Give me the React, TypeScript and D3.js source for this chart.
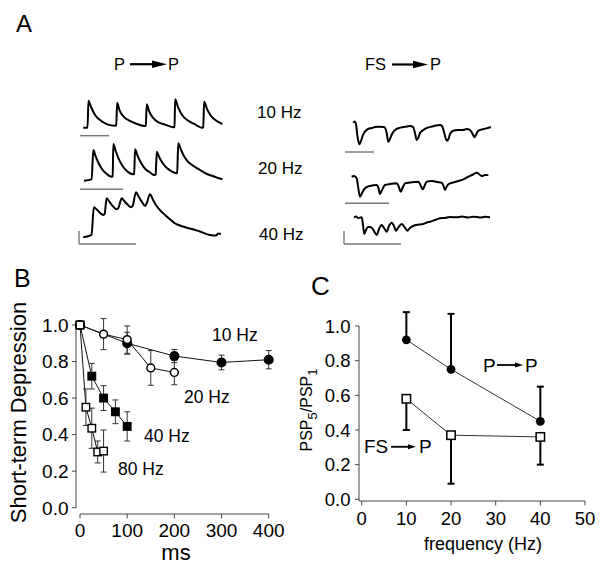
import React from 'react';
import * as d3 from 'd3';

// ---------- Panel A: traces, [time (ms), potential (mV)] ----------
const ppTrace10 = [[11,0],[26,0],[29,2.08],[38,1.59],[52,0.98],[69,0.59],[92,0.28],[121,0.15],[125,0.17],[128,1.92],[136,1.36],[152,0.82],[172,0.52],[197,0.28],[222,0.13],[227,0.15],[230,1.8],[238,1.28],[252,0.75],[272,0.4],[297,0.21],[322,0.03],[326,0.05],[328,2.18],[338,1.59],[352,0.98],[372,0.55],[397,0.25],[420,0],[425,0.03],[428,2.0],[438,1.44],[452,0.9],[469,0.55],[491,0.28]];
const ppTrace20 = [[9,-0.05],[27,0.05],[31,2.31],[36,1.85],[43,1.31],[51,0.85],[61,0.5],[74,0.25],[76,0.27],[77.5,2.77],[83,2.23],[90,1.62],[99,1.08],[109,0.69],[123,0.44],[126,0.46],[128,2.36],[134,1.85],[142,1.31],[152,0.85],[163,0.58],[173,0.38],[176,0.42],[178.5,2.18],[184,1.77],[192,1.31],[202,0.92],[212,0.69],[223,0.52],[226,0.54],[228.5,2.82],[235,2.31],[243,1.77],[252,1.38],[264,1.08],[279,0.77],[295,0.46],[309,0.31],[321,0.15],[331,0.05]];
const ppTrace40 = [[7.5,-0.1],[22,0.08],[26,2.21],[32,2.0],[37,1.77],[43,1.62],[45,1.69],[48.5,2.9],[53.5,2.62],[60,2.27],[66,2.05],[69,2.15],[75,2.9],[80,2.65],[86,2.38],[91,2.21],[94,2.31],[100,3.36],[105,3.0],[110.5,2.62],[116,2.31],[119,2.54],[124.5,3.21],[130,2.77],[135,2.38],[142,2.0],[151,1.62],[160,1.27],[168,0.98],[177,0.81],[188,0.65],[200,0.52],[212,0.35],[230,0.08],[240,0.04],[245,0.19],[249,0.15]];
const fsTrace10 = [[28.6,0.25],[32.8,0.35],[37.9,0.15],[42.4,-0.69],[49.3,-1.41],[55.2,-1.15],[62.1,-0.69],[69,-0.44],[79.3,-0.23],[93.1,-0.15],[103.4,-0.08],[114.8,-0.05],[134.5,-0.08],[143.8,-0.54],[149.3,-1.21],[155.2,-1.0],[162.1,-0.62],[172.4,-0.31],[186.2,-0.15],[200,-0.08],[213.8,-0.04],[224.1,0],[234.5,-0.08],[241.4,-0.54],[247.2,-1.08],[253.4,-0.88],[258.6,-0.54],[270,-0.31],[282.8,-0.15],[300,-0.04],[313.8,0.04],[327.6,0.08],[334.5,0],[341.4,-0.46],[350.7,-1.13],[356.9,-1.0],[362.1,-0.62],[373.4,-0.36],[389.7,-0.31],[406.9,-0.31],[420.7,-0.23],[431,-0.31],[440.3,-0.62],[445.9,-0.87],[451.7,-0.69],[458.6,-0.38],[465.5,-0.31],[479.3,-0.23],[493.1,-0.15],[503.4,-0.1]];
const fsTrace20 = [[15.2,0.33],[20.5,0.38],[26.6,0.21],[29.5,-0.38],[34.1,-1.21],[38.6,-0.92],[45.5,-0.56],[56.8,-0.38],[72,-0.31],[76.1,-0.54],[79.5,-1.0],[84.1,-0.69],[90.9,-0.31],[102.3,-0.23],[117.5,-0.18],[121.6,-0.38],[126.6,-0.82],[130.7,-0.54],[136.4,-0.18],[147.7,-0.12],[166.6,-0.05],[171.6,-0.31],[176.6,-0.64],[180.7,-0.38],[185.7,-0.05],[197.7,0],[209.1,-0.08],[219.8,-0.13],[223.9,-0.38],[227.3,-0.69],[231.8,-0.38],[238.6,-0.18],[250,-0.08],[261.4,0.04],[268.9,0.13],[279.5,0.31],[288.6,0.46],[299.3,0.64],[304.5,0.54],[310.7,0.38],[318.2,0.46],[325.7,0.46]];
const fsTrace40 = [[17.5,0],[21.1,0.06],[24.6,-0.05],[31.1,0],[33.3,-0.59],[35.6,-1.28],[38.6,-0.98],[42.6,-0.72],[49.1,-0.82],[53.5,-1.13],[57.4,-1.36],[61.4,-0.9],[66.1,-0.59],[70.2,-0.82],[74.9,-1.11],[78.9,-0.67],[83.7,-0.42],[87.7,-0.67],[91.2,-1.03],[95.6,-0.75],[101.2,-0.52],[106.1,-0.75],[111.1,-1.03],[115.8,-0.82],[121.1,-0.67],[127.5,-0.59],[133.3,-0.55],[139.1,-0.52],[145.6,-0.4],[150.9,-0.34],[159.6,-0.21],[168.4,-0.08],[177.2,-0.05],[186,0.02],[197.7,0],[207,0.06],[217.5,-0.02],[226.8,0.05],[238.6,-0.02],[247.4,0.04],[256.1,0]];
const traceRowLabels = ['10 Hz', '20 Hz', '40 Hz'];
const scaleBarMs = 100;
const scaleBarMv = 1;

// ---------- Panel B: short-term depression vs time ----------
const msTicks = [0, 100, 200, 300, 400];
const depTicks = [0, 0.2, 0.4, 0.6, 0.8, 1.0];
const t10 = [0, 100, 200, 300, 400];
const v10 = [1.0, 0.90, 0.83, 0.795, 0.81];
const e10 = [0, 0.06, 0.036, 0.04, 0.05];
const t20 = [0, 50, 100, 150, 200];
const v20 = [1.0, 0.95, 0.92, 0.765, 0.74];
const e20 = [0, 0.085, 0.075, 0.095, 0.067];
const t40 = [0, 25, 50, 75, 100];
const v40 = [1.0, 0.72, 0.60, 0.525, 0.445];
const e40 = [0, 0.07, 0.068, 0.065, 0.08];
const t80 = [0, 12.5, 25, 37.5, 50];
const v80 = [1.0, 0.55, 0.435, 0.305, 0.31];
const e80 = [0, 0.1, 0.11, 0.06, 0.115];
const seriesBLabels = ['10 Hz', '20 Hz', '40 Hz', '80 Hz'];

// ---------- Panel C: PSP5/PSP1 vs frequency ----------
const freqTicks = [0, 10, 20, 30, 40, 50];
const ratioTicks = [0, 0.2, 0.4, 0.6, 0.8, 1.0];
const freqs = [10, 20, 40];
const ppRatio = [0.92, 0.75, 0.45];
const ppErrUp = [0.16, 0.32, 0.20];
const fsRatio = [0.58, 0.37, 0.36];
const fsErrDown = [0.18, 0.28, 0.16];

const FONT = '"Liberation Sans", Arial, Helvetica, sans-serif';

function Arrow({ x1, x2, y, head, h, sw }) {
  return (
    <g>
      <line x1={x1} x2={x2 - head + 1} y1={y} y2={y} stroke="#000" strokeWidth={sw} />
      <path d={`M${x2 - head},${y - h / 2}L${x2},${y}L${x2 - head},${y + h / 2}Z`} fill="#000" />
    </g>
  );
}

function Trace({ data, x0, k, base, pxPerMv }) {
  const x = d3.scaleLinear().domain([0, scaleBarMs]).range([x0, x0 + scaleBarMs * k]);
  const y = d3.scaleLinear().domain([0, scaleBarMv]).range([base, base - pxPerMv]);
  const line = d3.line().x((d) => x(d[0])).y((d) => y(d[1])).curve(d3.curveMonotoneX);
  return <path d={line(data)} fill="none" stroke="#000" strokeWidth={2} strokeLinejoin="round" />;
}

function ScaleBar({ x0, k, y, vert, pxPerMv }) {
  const len = scaleBarMs * k;
  return (
    <g stroke="#777" strokeWidth={1.4} fill="none">
      <line x1={x0} x2={x0 + len} y1={y} y2={y} />
      {vert && <line x1={x0} x2={x0} y1={y} y2={y - scaleBarMv * pxPerMv} />}
    </g>
  );
}

export default function App() {
  const pxPerMv = 13;
  const ppRows = [
    { data: ppTrace10, x0: 80, k: 0.29, base: 127.7, bar: 135.7 },
    { data: ppTrace20, x0: 80, k: 0.43, base: 180, bar: 189.3 },
    { data: ppTrace40, x0: 79, k: 0.57, base: 236, bar: 244 },
  ];
  const fsRows = [
    { data: fsTrace10, x0: 345, k: 0.29, base: 126, bar: 152 },
    { data: fsTrace20, x0: 345, k: 0.44, base: 181, bar: 203.3 },
    { data: fsTrace40, x0: 344, k: 0.57, base: 217.3, bar: 244 },
  ];
  const rowLabelY = [118.3, 174.3, 240];

  // Panel B scales
  const xB = d3.scaleLinear().domain([0, 400]).range([80, 268.7]);
  const yB = d3.scaleLinear().domain([0, 1]).range([507.7, 325]);
  const seriesB = [
    { t: t10, v: v10, e: e10, shape: 'circle', fill: '#000' },
    { t: t20, v: v20, e: e20, shape: 'circle', fill: '#fff' },
    { t: t40, v: v40, e: e40, shape: 'square', fill: '#000' },
    { t: t80, v: v80, e: e80, shape: 'square', fill: '#fff' },
  ];
  const lineB = d3.line().x((d) => xB(d[0])).y((d) => yB(d[1]));
  const bLabelPos = [
    { x: 212, y: 341 },
    { x: 184, y: 402.7 },
    { x: 144, y: 441.7 },
    { x: 118, y: 474.5 },
  ];

  // Panel C scales
  const xC = d3.scaleLinear().domain([0, 50]).range([361.7, 585]);
  const yC = d3.scaleLinear().domain([0, 1]).range([499.3, 326]);
  const lineC = d3.line().x((d) => xC(d[0])).y((d) => yC(d[1]));

  const marker = (shape, fill, cx, cy, key) => {
    if (shape === 'circle') {
      return <circle key={key} cx={cx} cy={cy} r={fill === '#000' ? 4.3 : 3.9} fill={fill} stroke="#000" strokeWidth={1.5} />;
    }
    const s = 7.5;
    return <rect key={key} x={cx - s / 2} y={cy - s / 2} width={s} height={s} fill={fill} stroke="#000" strokeWidth={1.4} />;
  };

  return (
    <svg width={601} height={575} style={{ position: 'absolute', left: 0, top: 0, background: '#fff' }} fontFamily={FONT}>
      <rect x={0} y={0} width={601} height={575} fill="#fff" />

      {/* ----- Panel A ----- */}
      <text x={16} y={32} fontSize={24}>A</text>
      <text x={114} y={70} fontSize={16.5}>P</text>
      <Arrow x1={130} x2={167} y={64.2} head={15} h={7.5} sw={2.2} />
      <text x={168} y={70} fontSize={16.5}>P</text>
      <text x={365} y={70} fontSize={16.5}>FS</text>
      <Arrow x1={392} x2={428} y={64.5} head={15} h={7.5} sw={2.2} />
      <text x={430} y={70} fontSize={16.5}>P</text>

      {ppRows.map((r, i) => (
        <g key={'pp' + i}>
          <Trace data={r.data} x0={r.x0} k={r.k} base={r.base} pxPerMv={pxPerMv} />
          <ScaleBar x0={r.x0} k={r.k} y={r.bar} vert={i === 2} pxPerMv={pxPerMv} />
        </g>
      ))}
      {fsRows.map((r, i) => (
        <g key={'fs' + i}>
          <Trace data={r.data} x0={r.x0} k={r.k} base={r.base} pxPerMv={pxPerMv} />
          <ScaleBar x0={r.x0} k={r.k} y={r.bar} vert={i === 2} pxPerMv={pxPerMv} />
        </g>
      ))}
      {traceRowLabels.map((l, i) => (
        <text key={'rl' + i} x={257 + i} y={rowLabelY[i]} fontSize={17}>{l}</text>
      ))}

      {/* ----- Panel B ----- */}
      <text x={14} y={287} fontSize={25}>B</text>
      <g stroke="#444" strokeWidth={1} fill="none">
        <line x1={76} x2={76} y1={yB(1)} y2={yB(0)} />
        {depTicks.map((t) => (
          <line key={'byt' + t} x1={72} x2={76} y1={yB(t)} y2={yB(t)} />
        ))}
        <line x1={xB(0)} x2={xB(400)} y1={514} y2={514} />
        {msTicks.map((t) => (
          <line key={'bxt' + t} x1={xB(t)} x2={xB(t)} y1={514} y2={518.5} />
        ))}
      </g>
      {depTicks.map((t) => (
        <text key={'byl' + t} x={68.5} y={yB(t)} dy="0.36em" textAnchor="end" fontSize={19}>{t.toFixed(1)}</text>
      ))}
      {msTicks.map((t) => (
        <text key={'bxl' + t} x={xB(t)} y={536.5} textAnchor="middle" fontSize={19}>{t}</text>
      ))}
      <text x={176} y={560} textAnchor="middle" fontSize={22}>ms</text>
      <text transform="translate(26,412.5) rotate(-90)" textAnchor="middle" fontSize={22}>Short-term Depression</text>

      {seriesB.map((s, si) => (
        <path key={'bl' + si} d={lineB(s.t.map((t, i) => [t, s.v[i]]))} fill="none" stroke="#111" strokeWidth={1} />
      ))}
      {seriesB.map((s, si) => (
        <g key={'be' + si} stroke="#333" strokeWidth={1}>
          {s.t.map((t, i) =>
            s.e[i] > 0 ? (
              <g key={i}>
                <line x1={xB(t)} x2={xB(t)} y1={yB(s.v[i] - s.e[i])} y2={yB(s.v[i] + s.e[i])} />
                <line x1={xB(t) - 3} x2={xB(t) + 3} y1={yB(s.v[i] - s.e[i])} y2={yB(s.v[i] - s.e[i])} />
                <line x1={xB(t) - 3} x2={xB(t) + 3} y1={yB(s.v[i] + s.e[i])} y2={yB(s.v[i] + s.e[i])} />
              </g>
            ) : null
          )}
        </g>
      ))}
      {seriesB.map((s, si) => (
        <g key={'bm' + si}>
          {s.t.map((t, i) => marker(s.shape, s.fill, xB(t), yB(s.v[i]), i))}
        </g>
      ))}
      {seriesBLabels.map((l, i) => (
        <text key={'bsl' + i} x={bLabelPos[i].x} y={bLabelPos[i].y} fontSize={17.5}>{l}</text>
      ))}

      {/* ----- Panel C ----- */}
      <text x={311} y={295} fontSize={26}>C</text>
      <g stroke="#444" strokeWidth={1} fill="none">
        <line x1={359} x2={359} y1={yC(1)} y2={501} />
        {ratioTicks.map((t) => (
          <line key={'cyt' + t} x1={355} x2={359} y1={yC(t)} y2={yC(t)} />
        ))}
        <line x1={359} x2={xC(50)} y1={501} y2={501} />
        {freqTicks.map((t) => (
          <line key={'cxt' + t} x1={xC(t)} x2={xC(t)} y1={501} y2={505.5} />
        ))}
      </g>
      {ratioTicks.map((t) => (
        <text key={'cyl' + t} x={350.5} y={yC(t)} dy="0.36em" textAnchor="end" fontSize={18.5}>{t.toFixed(1)}</text>
      ))}
      {freqTicks.map((t) => (
        <text key={'cxl' + t} x={xC(t)} y={525} textAnchor="middle" fontSize={18.5}>{t}</text>
      ))}
      <text x={483} y={550} textAnchor="middle" fontSize={18}>frequency (Hz)</text>
      <text transform="translate(312,410) rotate(-90)" textAnchor="middle" fontSize={16}>
        PSP<tspan fontSize={13} dy={5}>5</tspan><tspan dy={-5}>/PSP</tspan><tspan fontSize={13} dy={5}>1</tspan>
      </text>

      <path d={lineC(freqs.map((f, i) => [f, ppRatio[i]]))} fill="none" stroke="#333" strokeWidth={1} />
      <path d={lineC(freqs.map((f, i) => [f, fsRatio[i]]))} fill="none" stroke="#333" strokeWidth={1} />
      <g stroke="#000" strokeWidth={2}>
        {freqs.map((f, i) => (
          <g key={'cpe' + i}>
            <line x1={xC(f)} x2={xC(f)} y1={yC(ppRatio[i])} y2={yC(ppRatio[i] + ppErrUp[i])} />
            <line x1={xC(f) - 3.5} x2={xC(f) + 3.5} y1={yC(ppRatio[i] + ppErrUp[i])} y2={yC(ppRatio[i] + ppErrUp[i])} />
            <line x1={xC(f)} x2={xC(f)} y1={yC(fsRatio[i])} y2={yC(fsRatio[i] - fsErrDown[i])} />
            <line x1={xC(f) - 3.5} x2={xC(f) + 3.5} y1={yC(fsRatio[i] - fsErrDown[i])} y2={yC(fsRatio[i] - fsErrDown[i])} />
          </g>
        ))}
      </g>
      {freqs.map((f, i) => (
        <circle key={'cpm' + i} cx={xC(f)} cy={yC(ppRatio[i])} r={4.4} fill="#000" />
      ))}
      {freqs.map((f, i) => (
        <rect key={'cfm' + i} x={xC(f) - 4.2} y={yC(fsRatio[i]) - 4.2} width={8.4} height={8.4} fill="#fff" stroke="#000" strokeWidth={1.5} />
      ))}
      <text x={483} y={371.7} fontSize={19}>P</text>
      <Arrow x1={497} x2={523} y={365} head={8} h={5} sw={1.8} />
      <text x={525} y={371.7} fontSize={19}>P</text>
      <text x={364} y={453.3} fontSize={19}>FS</text>
      <Arrow x1={391} x2={416} y={446.8} head={8} h={5} sw={1.8} />
      <text x={419} y={453.3} fontSize={19}>P</text>
    </svg>
  );
}
